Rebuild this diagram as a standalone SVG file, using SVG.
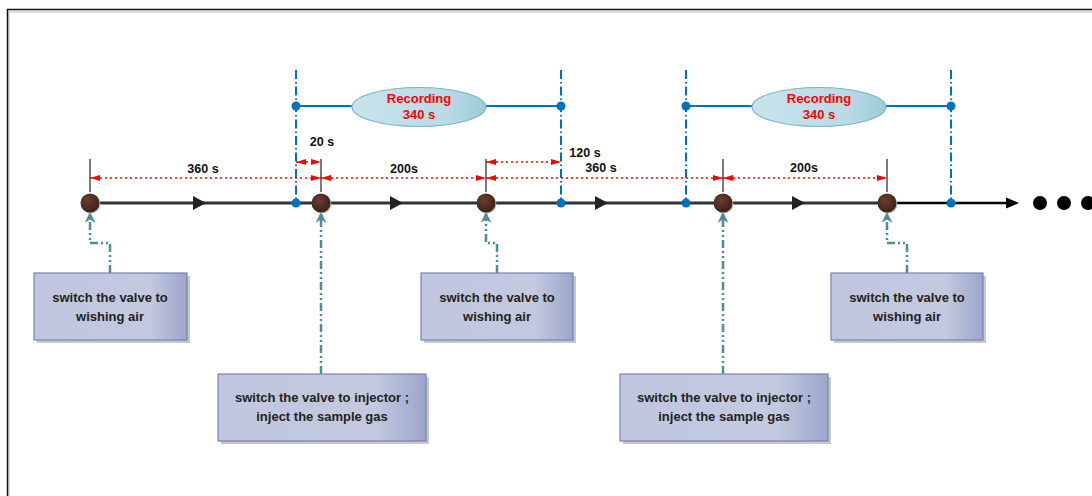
<svg xmlns="http://www.w3.org/2000/svg" width="1092" height="496" viewBox="0 0 1092 496">
<style>
.lbl{font-family:"Liberation Sans",Arial,sans-serif;font-weight:bold;font-size:12.5px;fill:#111;text-anchor:middle}
.rec{font-family:"Liberation Sans",Arial,sans-serif;font-weight:bold;font-size:13px;fill:#ff0000;text-anchor:middle}
.box{font-family:"Liberation Sans",Arial,sans-serif;font-weight:bold;font-size:13px;fill:#222;text-anchor:middle}
.boxr{fill:url(#gBox);stroke:#7683b4;stroke-width:1.2}
.shd{fill:#c8c8c8}
.blue{stroke:#0070c0;stroke-width:2;fill:none}
.bdash{stroke:#0070c0;stroke-width:2;fill:none;stroke-dasharray:9 3 1.5 3}
.bdot{fill:#0070c0}
.tick{stroke:#222;stroke-width:1.2}
.dim{stroke:#ff0000;stroke-width:1.3;stroke-dasharray:2 3;fill:none;marker-start:url(#rA);marker-end:url(#rA)}
.teal{stroke:#4b8d9b;stroke-width:2.5;fill:none;stroke-dasharray:8 3 2 3 2 3;marker-end:url(#tA)}
.node{fill:url(#gBall)}
.tri{fill:#222}
</style>
<defs>
<linearGradient id="gBox" x1="0" y1="0" x2="1" y2="0">
<stop offset="0" stop-color="#c0c6de"/>
<stop offset="0.75" stop-color="#c3c9df"/>
<stop offset="1" stop-color="#9ca6cb"/>
</linearGradient>
<linearGradient id="gEll" x1="0" y1="0" x2="1" y2="0">
<stop offset="0" stop-color="#c9e3ec"/>
<stop offset="0.7" stop-color="#b9dbe6"/>
<stop offset="1" stop-color="#9ccad9"/>
</linearGradient>
<radialGradient id="gBall" cx="0.4" cy="0.35" r="0.7">
<stop offset="0" stop-color="#6a3e30"/>
<stop offset="1" stop-color="#3a1f17"/>
</radialGradient>
<marker id="rA" viewBox="0 0 10 6" refX="10" refY="3" markerWidth="10" markerHeight="6" markerUnits="userSpaceOnUse" orient="auto-start-reverse">
<path d="M0,0 L10,3 L0,6 Z" fill="#ff0000"/>
</marker>
<marker id="tA" viewBox="0 0 10 10" refX="9" refY="5" markerWidth="11" markerHeight="11" markerUnits="userSpaceOnUse" orient="auto">
<path d="M0,0 L10,5 L0,10 L3,5 Z" fill="#4b8d9b"/>
</marker>
</defs>
<rect width="1092" height="496" fill="#ffffff"/>
<!-- frame -->
<path d="M9,496 V12 H1092" fill="none" stroke="#dddddd" stroke-width="2"/>
<path d="M7.5,496 V9.5 H1092" fill="none" stroke="#111" stroke-width="1.5"/>

<g id="connectors">
<!-- timeline -->
<line x1="90" y1="203" x2="887" y2="203" stroke="#333" stroke-width="3"/>
<line x1="887" y1="203" x2="1008" y2="203" stroke="#000" stroke-width="2.5"/>
<path d="M1006,197.5 L1019,203 L1006,208.5 Z" fill="#000"/>
<path class="tri" d="M193,196 L206,203 L193,210 Z"/>
<path class="tri" d="M390,196 L403,203 L390,210 Z"/>
<path class="tri" d="M595,196 L608,203 L595,210 Z"/>
<path class="tri" d="M792,196 L805,203 L792,210 Z"/>
<!-- recording brackets -->
<line class="bdash" x1="296" y1="70" x2="296" y2="203"/>
<line class="bdash" x1="561" y1="70" x2="561" y2="203"/>
<line class="bdash" x1="686" y1="70" x2="686" y2="203"/>
<line class="bdash" x1="951" y1="70" x2="951" y2="203"/>
<line class="blue" x1="296" y1="106" x2="561" y2="106"/>
<line class="blue" x1="686" y1="106" x2="951" y2="106"/>
<circle class="bdot" cx="296" cy="106" r="4.5"/>
<circle class="bdot" cx="561" cy="106" r="4.5"/>
<circle class="bdot" cx="686" cy="106" r="4.5"/>
<circle class="bdot" cx="951" cy="106" r="4.5"/>
<circle class="bdot" cx="296" cy="203" r="4.5"/>
<circle class="bdot" cx="561" cy="203" r="4.5"/>
<circle class="bdot" cx="686" cy="203" r="4.5"/>
<circle class="bdot" cx="951" cy="203" r="4.5"/>
<!-- ticks -->
<line class="tick" x1="90" y1="159" x2="90" y2="192"/>
<line class="tick" x1="321" y1="159" x2="321" y2="192"/>
<line class="tick" x1="486" y1="159" x2="486" y2="192"/>
<line class="tick" x1="723" y1="159" x2="723" y2="192"/>
<line class="tick" x1="887" y1="159" x2="887" y2="192"/>
<!-- dimension lines -->
<line class="dim" x1="90" y1="178" x2="321" y2="178"/>
<line class="dim" x1="296" y1="162" x2="321" y2="162"/>
<line class="dim" x1="321" y1="178" x2="486" y2="178"/>
<line class="dim" x1="486" y1="162" x2="561" y2="162"/>
<line class="dim" x1="486" y1="178" x2="723" y2="178"/>
<line class="dim" x1="723" y1="178" x2="887" y2="178"/>
<!-- teal connectors -->
<polyline class="teal" points="110,273 110,243 90,243 90,213"/>
<polyline class="teal" points="321,374 321,213"/>
<polyline class="teal" points="497,273 497,243 486,243 486,213"/>
<polyline class="teal" points="723,374 723,213"/>
<polyline class="teal" points="907,273 907,243 887,243 887,213"/>
</g>

<g id="labels">
<text class="lbl" x="203" y="173">360 s</text>
<text class="lbl" x="322" y="146">20 s</text>
<text class="lbl" x="404" y="173">200s</text>
<text class="lbl" x="585" y="157">120 s</text>
<text class="lbl" x="601" y="172">360 s</text>
<text class="lbl" x="804" y="172">200s</text>
</g>

<g id="rec1">
<ellipse cx="419" cy="107" rx="67" ry="19.5" fill="url(#gEll)" stroke="#7fb3c6" stroke-width="1.2"/>
<text class="rec" x="419" y="103">Recording</text>
<text class="rec" x="419" y="119">340 s</text>
</g>
<g id="rec2">
<ellipse cx="819" cy="107" rx="67" ry="19.5" fill="url(#gEll)" stroke="#7fb3c6" stroke-width="1.2"/>
<text class="rec" x="819" y="103">Recording</text>
<text class="rec" x="819" y="119">340 s</text>
</g>

<g id="n1"><circle cx="91" cy="204" r="9.5" fill="#bbb"/><circle class="node" cx="90" cy="203" r="9.5"/></g>
<g id="n2"><circle cx="322" cy="204" r="9.5" fill="#bbb"/><circle class="node" cx="321" cy="203" r="9.5"/></g>
<g id="n3"><circle cx="487" cy="204" r="9.5" fill="#bbb"/><circle class="node" cx="486" cy="203" r="9.5"/></g>
<g id="n4"><circle cx="724" cy="204" r="9.5" fill="#bbb"/><circle class="node" cx="723" cy="203" r="9.5"/></g>
<g id="n5"><circle cx="888" cy="204" r="9.5" fill="#bbb"/><circle class="node" cx="887" cy="203" r="9.5"/></g>

<g id="more">
<circle cx="1040" cy="203" r="7" fill="#000"/>
<circle cx="1064" cy="203" r="7" fill="#000"/>
<circle cx="1088" cy="203" r="7" fill="#000"/>
</g>

<g id="box1">
<rect class="shd" x="37" y="276" width="153" height="67"/>
<rect class="boxr" x="34" y="273" width="153" height="67"/>
<text class="box" x="110" y="302">switch the valve to</text>
<text class="box" x="110" y="321">wishing air</text>
</g>
<g id="box2">
<rect class="shd" x="221" y="377" width="208" height="67"/>
<rect class="boxr" x="218" y="374" width="208" height="67"/>
<text class="box" x="322" y="402">switch the valve to injector ;</text>
<text class="box" x="322" y="421">inject the sample gas</text>
</g>
<g id="box3">
<rect class="shd" x="424" y="276" width="152" height="67"/>
<rect class="boxr" x="421" y="273" width="152" height="67"/>
<text class="box" x="497" y="302">switch the valve to</text>
<text class="box" x="497" y="321">wishing air</text>
</g>
<g id="box4">
<rect class="shd" x="623" y="377" width="208" height="67"/>
<rect class="boxr" x="620" y="374" width="208" height="67"/>
<text class="box" x="724" y="402">switch the valve to injector ;</text>
<text class="box" x="724" y="421">inject the sample gas</text>
</g>
<g id="box5">
<rect class="shd" x="834" y="276" width="152" height="67"/>
<rect class="boxr" x="831" y="273" width="152" height="67"/>
<text class="box" x="907" y="302">switch the valve to</text>
<text class="box" x="907" y="321">wishing air</text>
</g>
</svg>
